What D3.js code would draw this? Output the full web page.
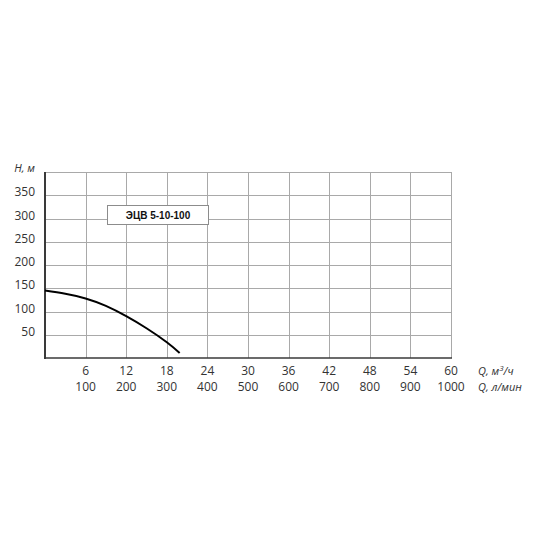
<!DOCTYPE html>
<meta charset="utf-8">
<script src="https://d3js.org/d3.v7.min.js"></script>
<style>
    body { margin: 0; background: #fff; }
    svg { display: block; }
    text { font-family: "Open Sans", sans-serif; fill: #333; }
</style>
<div id="chart"></div>
<script>
    // pump curve
    var flow = [0, 3, 6, 9, 12, 15, 18, 19.9];       // Q, m3/h
    var head = [145, 138, 128, 112, 90, 64, 34, 11];  // H, m
    var xTicks = [6, 12, 18, 24, 30, 36, 42, 48, 54, 60];
    var xTicksLmin = [100, 200, 300, 400, 500, 600, 700, 800, 900, 1000];
    var yTicks = [50, 100, 150, 200, 250, 300, 350];
    var legendLabel = "ЭЦВ 5-10-100";

    var width = 550, height = 550,
        plotLeft = 45, plotRight = 451, plotTop = 172, plotBottom = 358;

    var svg = d3.select("#chart").append("svg")
        .attr("width", width).attr("height", height);

    var x = d3.scaleLinear().domain([0, 60]).range([plotLeft, plotRight]),
        y = d3.scaleLinear().domain([0, 400]).range([plotBottom, plotTop]);

    // grid
    var grid = svg.append("g").attr("stroke", "#a9a9a9").attr("stroke-width", 1);
    grid.selectAll("line.v").data(xTicks).enter().append("line").attr("class", "v")
        .attr("x1", function(d) { return Math.round(x(d)) + 0.5; })
        .attr("x2", function(d) { return Math.round(x(d)) + 0.5; })
        .attr("y1", plotTop).attr("y2", plotBottom);
    grid.selectAll("line.h").data(yTicks.concat([400])).enter().append("line").attr("class", "h")
        .attr("y1", function(d) { return Math.round(y(d)) + 0.5; })
        .attr("y2", function(d) { return Math.round(y(d)) + 0.5; })
        .attr("x1", plotLeft).attr("x2", plotRight);

    // axes
    svg.append("line").attr("x1", plotLeft).attr("x2", plotLeft).attr("y1", plotTop).attr("y2", plotBottom + 1)
        .attr("stroke", "#3a3a3a").attr("stroke-width", 2);
    svg.append("line").attr("x1", plotLeft - 1).attr("x2", plotRight + 1).attr("y1", plotBottom).attr("y2", plotBottom)
        .attr("stroke", "#3a3a3a").attr("stroke-width", 1.5);

    // y labels
    svg.selectAll("text.y").data(yTicks).enter().append("text").attr("class", "y")
        .attr("x", 35).attr("y", function(d) { return y(d) + 1; })
        .attr("text-anchor", "end").style("font-size", "12px")
        .text(function(d) { return d; });
    svg.append("text").attr("x", 35).attr("y", 172)
        .attr("text-anchor", "end").style("font-size", "11px").style("font-style", "italic")
        .text("H, м");

    // x labels, two rows
    svg.selectAll("text.x1").data(xTicks).enter().append("text").attr("class", "x1")
        .attr("x", function(d) { return x(d); }).attr("y", 375)
        .attr("text-anchor", "middle").style("font-size", "12px")
        .text(function(d) { return d; });
    svg.selectAll("text.x2").data(xTicksLmin).enter().append("text").attr("class", "x2")
        .attr("x", function(d, i) { return x(xTicks[i]); }).attr("y", 391)
        .attr("text-anchor", "middle").style("font-size", "12px")
        .text(function(d) { return d; });
    var qm = svg.append("text").attr("x", 478).attr("y", 375)
        .style("font-size", "11px").style("font-style", "italic");
    qm.append("tspan").text("Q, м");
    qm.append("tspan").attr("dy", -4).style("font-size", "8px").text("3");
    qm.append("tspan").attr("dy", 4).text("/ч");
    svg.append("text").attr("x", 478).attr("y", 391)
        .style("font-size", "11px").style("font-style", "italic")
        .text("Q, л/мин");

    // legend box
    svg.append("rect").attr("x", 107.5).attr("y", 205.5).attr("width", 101).attr("height", 19)
        .attr("fill", "#fff").attr("stroke", "#8c8c8c").attr("stroke-width", 1);
    svg.append("text").attr("x", 158).attr("y", 219)
        .attr("text-anchor", "middle")
        .style("font-family", "'Liberation Sans', Arial, sans-serif")
        .style("font-size", "10px").style("font-weight", "bold").style("fill", "#111")
        .text(legendLabel);

    // curve
    var line = d3.line()
        .x(function(d) { return x(d[0]); })
        .y(function(d) { return y(d[1]); })
        .curve(d3.curveNatural);
    svg.append("path").datum(d3.zip(flow, head))
        .attr("d", line).attr("fill", "none")
        .attr("stroke", "#000").attr("stroke-width", 2);
</script>
